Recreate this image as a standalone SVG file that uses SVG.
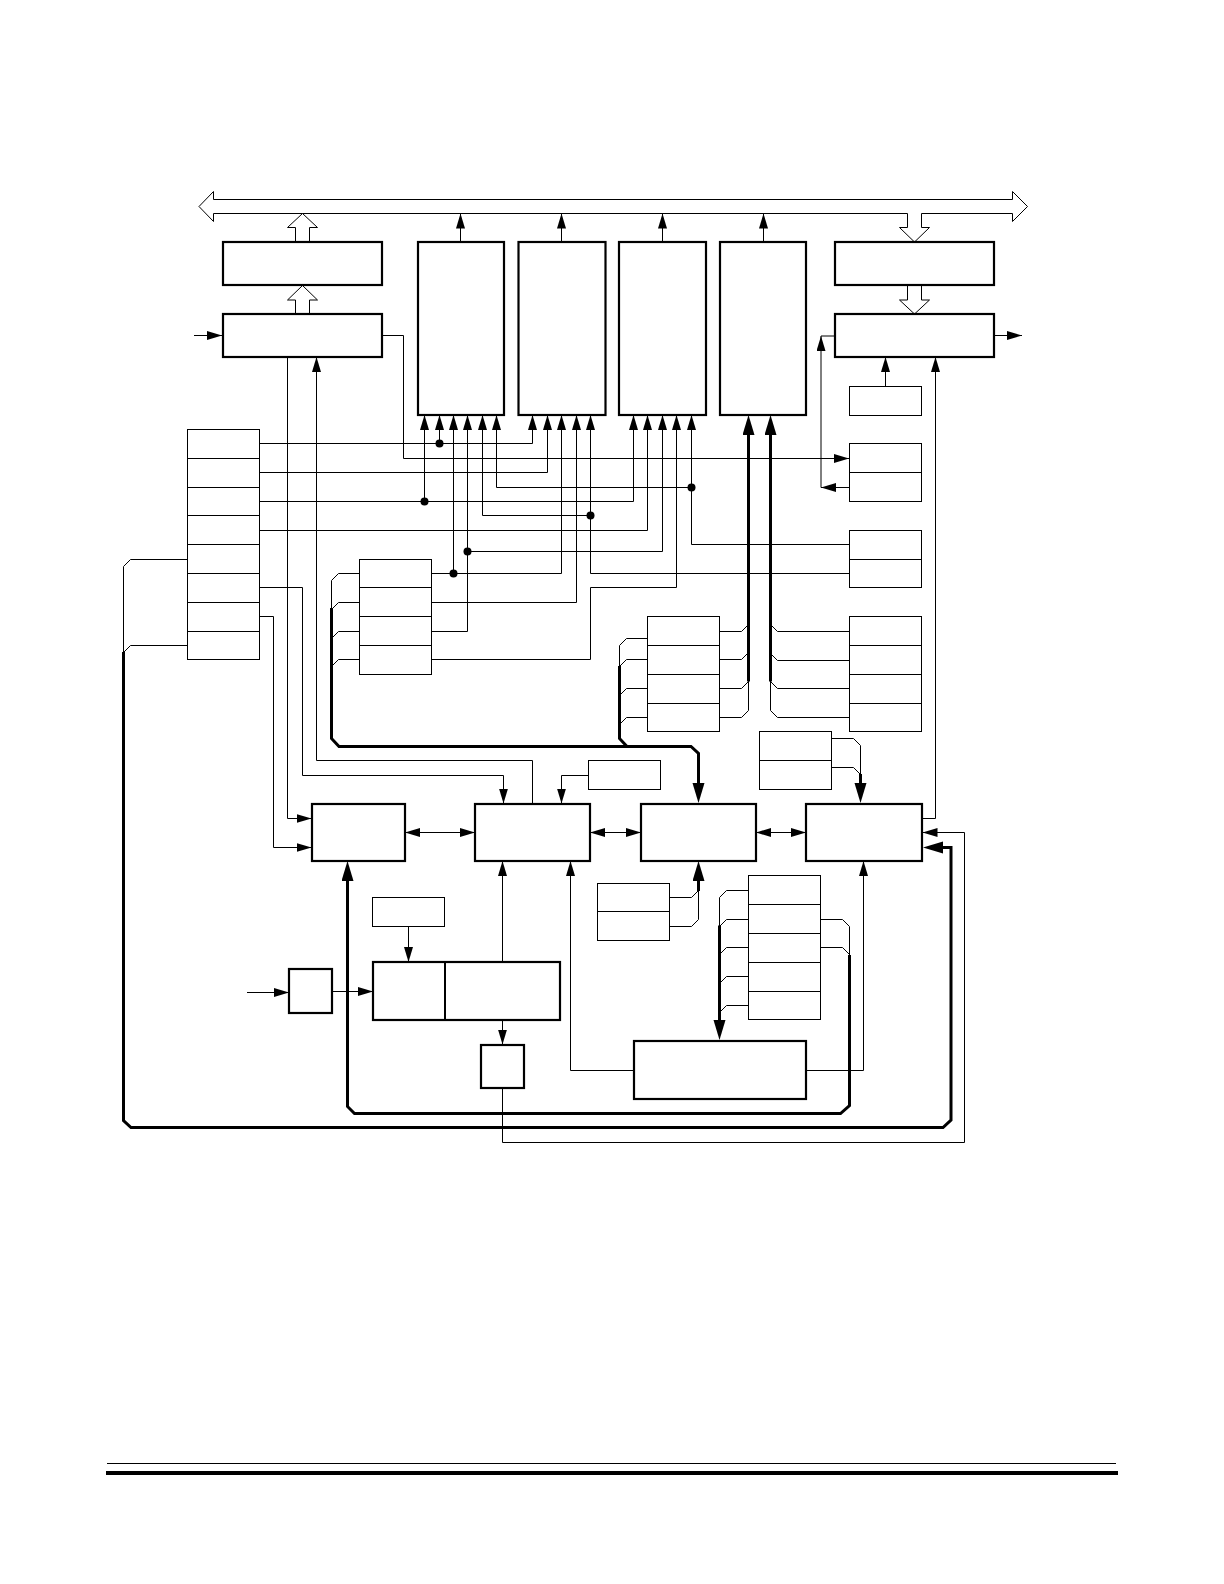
<svg xmlns="http://www.w3.org/2000/svg" width="1224" height="1584" viewBox="0 0 1224 1584">
<style>
.w{fill:none;stroke:#000;stroke-width:1}
.t{fill:none;stroke:#000;stroke-width:3}
.a{marker-end:url(#s)}
.b{marker-end:url(#l)}
.d{marker-start:url(#s);marker-end:url(#s)}
.h{fill:#fff;stroke:#000;stroke-width:1}
.n{fill:#fff;stroke:#000;stroke-width:2.2}
.r{fill:#fff;stroke:#000;stroke-width:1}
.j{fill:#000;stroke:none}
</style>
<defs>
<marker id="s" markerUnits="userSpaceOnUse" markerWidth="16" markerHeight="10" refX="15" refY="4.5" orient="auto-start-reverse"><path d="M0,0L15,4.5L0,9z"/></marker>
<marker id="l" markerUnits="userSpaceOnUse" markerWidth="22" markerHeight="13" refX="2" refY="6" orient="auto"><path d="M0,0L20,6L0,12z"/></marker>
</defs>
<rect width="1224" height="1584" fill="#fff"/>
<g id="connectors">
<path class="h" d="M199,206.5L213.5,191.5V199.5H1012.5V191.5L1027.5,206.5L1012.5,221.5V213.5H921.5V227.5H929.5L914.5,242L899.5,227.5H907.5V213.5H213.5V221.5z"/>
<path class="h" d="M295.5,242V227.5H287.5L302.5,213.5L317.5,227.5H309.5V242z"/>
<path class="h" d="M295.5,314V300H287.5L302.5,285.5L317.5,300H309.5V314z"/>
<path class="h" d="M907.5,285V300H899.5L914.5,314L929.5,300H921.5V285z"/>
<path class="w a" d="M194,335.5H222"/>
<path class="w a" d="M460.5,242V213.5"/>
<path class="w a" d="M561.5,242V213.5"/>
<path class="w a" d="M662.5,242V213.5"/>
<path class="w a" d="M763.5,242V213.5"/>
<path class="w a" d="M994,335.5H1022"/>
<path class="w a" d="M885.5,386V357"/>
<path class="w a" d="M382,335.5H403.5V458.5H849"/>
<path class="w a" d="M259,443.5H532.5V415"/>
<path class="w a" d="M439.5,443.5V415"/>
<path class="w a" d="M259,472.5H547.5V415"/>
<path class="w a" d="M259,501.5H633.5V415"/>
<path class="w a" d="M424.5,501.5V415"/>
<path class="w a" d="M259,530.5H647.5V415"/>
<path class="w a" d="M431.5,573.5H561.5V415"/>
<path class="w a" d="M453.5,573.5V415"/>
<path class="w a" d="M431.5,631.5H467.5V415"/>
<path class="w a" d="M467.5,551.5H662.5V415"/>
<path class="w a" d="M431.5,602.5H576.5V415"/>
<path class="w a" d="M431.5,659.5H590.5V587.5H676.5V415"/>
<path class="w a" d="M590.5,515.5H482.5V415"/>
<path class="w a" d="M849,573.5H590.5V415"/>
<path class="w a" d="M691.5,487.5H496.5V415"/>
<path class="w a" d="M849,544.5H691.5V415"/>
<path class="w a" d="M849,487.5H821"/>
<path class="w a" d="M821,487.5V336"/>
<path class="w" d="M821,336H835"/>
<path class="w a" d="M922,818.5H935.5V357"/>
<path class="w a" d="M259,616.5H273.5V847.5H311.5"/>
<path class="w a" d="M287.5,357V818.5H311.5"/>
<path class="w a" d="M259,587.5H302.5V775.5H503.5V803.5"/>
<path class="w a" d="M532.5,804V760.5H316.5V357"/>
<path class="w a" d="M588,775.5H561.5V803.5"/>
<path class="w d" d="M405,832.5H475"/>
<path class="w d" d="M590,832.5H641"/>
<path class="w d" d="M756,832.5H806"/>
<path class="w a" d="M502.5,962V861"/>
<path class="w a" d="M633.5,1070.5H570.5V861"/>
<path class="w a" d="M806,1070.5H863.5V861"/>
<path class="w a" d="M408.5,926V962"/>
<path class="w a" d="M247,992.5H289"/>
<path class="w a" d="M332,991.5H373"/>
<path class="w a" d="M502.5,1020V1044.5"/>
<path class="w a" d="M502.5,1088V1142.5H964.5V832.5H922.5"/>
<path class="w" d="M187,559.5H130.5L123.5,566.5V652.5"/>
<path class="w" d="M187,645.5H130.5L123.5,652.5"/>
<path class="w" d="M359,573.5H338.5L331.5,580.5V609"/>
<path class="w" d="M359,602.5H338.5L331.5,609.5"/>
<path class="w" d="M359,631.5H338.5L331.5,638.5"/>
<path class="w" d="M359,659.5H338.5L331.5,666.5"/>
<path class="w" d="M647,638.5H626.5L619.5,645.5V666"/>
<path class="w" d="M647,659.5H626.5L619.5,666.5"/>
<path class="w" d="M647,688.5H626.5L619.5,695.5"/>
<path class="w" d="M647,717.5H626.5L619.5,724.5"/>
<path class="w" d="M719,631.5H741.5L748.5,624.5"/>
<path class="w" d="M719,659.5H741.5L748.5,652.5"/>
<path class="w" d="M719,688.5H741.5L748.5,681.5"/>
<path class="w" d="M719,717.5H741.5L748.5,710.5V681"/>
<path class="w" d="M849,631.5H777.5L770.5,624.5"/>
<path class="w" d="M849,660.5H777.5L770.5,653.5"/>
<path class="w" d="M849,688.5H777.5L770.5,681.5"/>
<path class="w" d="M849,717.5H777.5L770.5,710.5V681"/>
<path class="w" d="M831,738.5H853.5L860.5,745.5V774"/>
<path class="w" d="M831,767.5H853.5L860.5,774.5"/>
<path class="w" d="M669,897.5H691.5L698.5,890.5"/>
<path class="w" d="M669,926.5H691.5L698.5,919.5V890"/>
<path class="w" d="M748,890.5H726.5L719.5,897.5V926"/>
<path class="w" d="M748,919.5H726.5L719.5,926.5"/>
<path class="w" d="M748,947.5H726.5L719.5,954.5"/>
<path class="w" d="M748,976.5H726.5L719.5,983.5"/>
<path class="w" d="M748,1005.5H726.5L719.5,1012.5"/>
<path class="w" d="M820,919.5H842.5L849.5,926.5V955"/>
<path class="w" d="M820,947.5H842.5L849.5,954.5"/>
<path class="t b" d="M748.5,681.5V433"/>
<path class="t b" d="M770.5,681.5V433"/>
<path class="t b" d="M331.5,608V738.5L339,746.5H691L698.5,753.5V785"/>
<path class="t" d="M619.5,666V738.5L627,746.5"/>
<path class="t b" d="M860.5,774V785"/>
<path class="t b" d="M698.5,891V879"/>
<path class="t b" d="M719.5,925.5V1022"/>
<path class="t b" d="M849.5,955V1105.5L840.5,1113.5H354.5L347.5,1106.5V879"/>
<path class="t b" d="M123.5,652V1120.5L131,1127.5H943L951,1120V847.5H941"/>
<circle class="j" cx="439.5" cy="443.5" r="4"/>
<circle class="j" cx="424.5" cy="501.5" r="4"/>
<circle class="j" cx="467.5" cy="551.5" r="4"/>
<circle class="j" cx="453.5" cy="573.5" r="4"/>
<circle class="j" cx="590.5" cy="515.5" r="4"/>
<circle class="j" cx="691.5" cy="487.5" r="4"/>
</g>
<g id="block-a"><rect class="n" x="223" y="242" width="159" height="43"/></g>
<g id="block-b"><rect class="n" x="223" y="314" width="159" height="43"/></g>
<g id="tall-1"><rect class="n" x="418" y="242" width="86" height="173"/></g>
<g id="tall-2"><rect class="n" x="518.500" y="242" width="87" height="173"/></g>
<g id="tall-3"><rect class="n" x="619" y="242" width="87" height="173"/></g>
<g id="tall-4"><rect class="n" x="720" y="242" width="86" height="173"/></g>
<g id="block-c"><rect class="n" x="835" y="242" width="159" height="43"/></g>
<g id="block-d"><rect class="n" x="835" y="314" width="159" height="43"/></g>
<g id="reg-single-1"><rect class="r" x="849.500" y="386.500" width="72" height="29"/></g>
<g id="reg-pair-1"><rect class="r" x="849.500" y="443.500" width="72" height="58"/><path class="w" d="M849.500,472.500H921.500"/></g>
<g id="reg-pair-2"><rect class="r" x="849.500" y="530.500" width="72" height="57"/><path class="w" d="M849.500,559.500H921.500"/></g>
<g id="reg-quad-right"><rect class="r" x="849.500" y="616.500" width="72" height="115"/><path class="w" d="M849.500,645.500H921.500M849.500,674.500H921.500M849.500,703.500H921.500"/></g>
<g id="reg-quad-mid"><rect class="r" x="647.500" y="616.500" width="72" height="115"/><path class="w" d="M647.500,645.500H719.500M647.500,674.500H719.500M647.500,703.500H719.500"/></g>
<g id="reg-column"><rect class="r" x="187.500" y="429.500" width="72" height="230"/><path class="w" d="M187.500,458.500H259.500M187.500,487.500H259.500M187.500,515.500H259.500M187.500,544.500H259.500M187.500,573.500H259.500M187.500,602.500H259.500M187.500,631.500H259.500"/></g>
<g id="reg-quad-left"><rect class="r" x="359.500" y="559.500" width="72" height="115"/><path class="w" d="M359.500,587.500H431.500M359.500,616.500H431.500M359.500,645.500H431.500"/></g>
<g id="reg-pair-3"><rect class="r" x="759.500" y="731.500" width="72" height="58"/><path class="w" d="M759.500,760.500H831.500"/></g>
<g id="reg-single-2"><rect class="r" x="588.500" y="760.500" width="72" height="29"/></g>
<g id="unit-1"><rect class="n" x="312" y="804" width="93" height="57"/></g>
<g id="unit-2"><rect class="n" x="475" y="804" width="115" height="57"/></g>
<g id="unit-3"><rect class="n" x="641" y="804" width="115" height="57"/></g>
<g id="unit-4"><rect class="n" x="806" y="804" width="116" height="57"/></g>
<g id="reg-single-3"><rect class="r" x="372.500" y="897.500" width="72" height="29"/></g>
<g id="reg-pair-4"><rect class="r" x="597.500" y="883.500" width="72" height="57"/><path class="w" d="M597.500,911.500H669.500"/></g>
<g id="reg-five"><rect class="r" x="748.500" y="875.500" width="72" height="144"/><path class="w" d="M748.500,904.500H820.500M748.500,933.500H820.500M748.500,962.500H820.500M748.500,991.500H820.500"/></g>
<g id="square-in"><rect class="n" x="289" y="969" width="43" height="44"/></g>
<g id="timer"><rect class="n" x="373" y="962" width="187" height="58"/><path fill="none" stroke="#000" stroke-width="2" d="M445,962V1020"/></g>
<g id="square-out"><rect class="n" x="481" y="1045" width="43" height="43"/></g>
<g id="block-g"><rect class="n" x="634" y="1041" width="172" height="58"/></g>
<g id="page-rules"><path class="w" d="M107,1463.500H1116"/><rect x="106" y="1471" width="1012" height="4" fill="#000"/></g>
</svg>
